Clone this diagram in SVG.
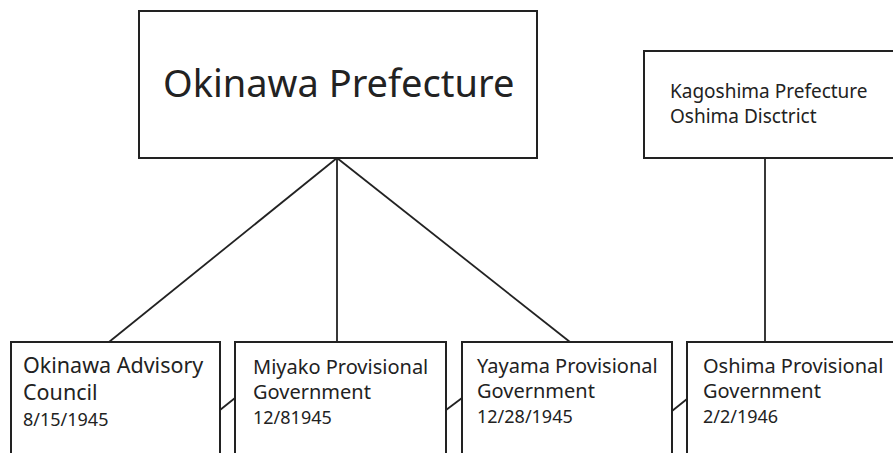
<svg xmlns="http://www.w3.org/2000/svg" width="893" height="453" viewBox="0 0 893 453">
<style>
.box{fill:#fff;stroke:#222;stroke-width:2}
.ln{stroke:#222;stroke-width:1.8;fill:none}
text{font-family:"Noto Sans","Open Sans",sans-serif;fill:#222}
.t{font-size:20px}
.d{font-size:18px}
</style>
<rect width="893" height="453" fill="#fff"/>
<g id="connectors">
<line class="ln" x1="337" y1="158" x2="109" y2="342"/>
<line class="ln" x1="337" y1="158" x2="337" y2="342"/>
<line class="ln" x1="337" y1="158" x2="570" y2="342"/>
<line class="ln" x1="765" y1="158" x2="765" y2="342"/>
<line class="ln" x1="220" y1="410" x2="235" y2="398"/>
<line class="ln" x1="446" y1="410" x2="462" y2="398"/>
<line class="ln" x1="672" y1="411" x2="687" y2="399"/>
</g>
<g id="okinawa-prefecture">
<rect class="box" x="139" y="11" width="398" height="147"/>
<text x="163" y="97" font-size="38">Okinawa Prefecture</text>
</g>
<g id="kagoshima">
<rect class="box" x="644" y="51" width="260" height="107"/>
<text x="670" y="98" font-size="19">Kagoshima Prefecture</text>
<text x="670" y="123" font-size="19">Oshima Disctrict</text>
</g>
<g id="okinawa-advisory">
<rect class="box" x="11" y="342" width="209" height="120"/>
<text x="23" y="373" font-size="21.5">Okinawa Advisory</text>
<text x="23" y="400" font-size="21.5">Council</text>
<text class="d" x="23" y="426">8/15/1945</text>
</g>
<g id="miyako">
<rect class="box" x="235" y="342" width="211" height="120"/>
<text class="t" x="253" y="374">Miyako Provisional</text>
<text class="t" x="253" y="399">Government</text>
<text class="d" x="253" y="424">12/81945</text>
</g>
<g id="yayama">
<rect class="box" x="462" y="342" width="210" height="120"/>
<text class="t" x="477" y="373">Yayama Provisional</text>
<text class="t" x="477" y="398">Government</text>
<text class="d" x="477" y="423">12/28/1945</text>
</g>
<g id="oshima">
<rect class="box" x="687" y="342" width="220" height="120"/>
<text class="t" x="703" y="373">Oshima Provisional</text>
<text class="t" x="703" y="398">Government</text>
<text class="d" x="703" y="423">2/2/1946</text>
</g>
</svg>
